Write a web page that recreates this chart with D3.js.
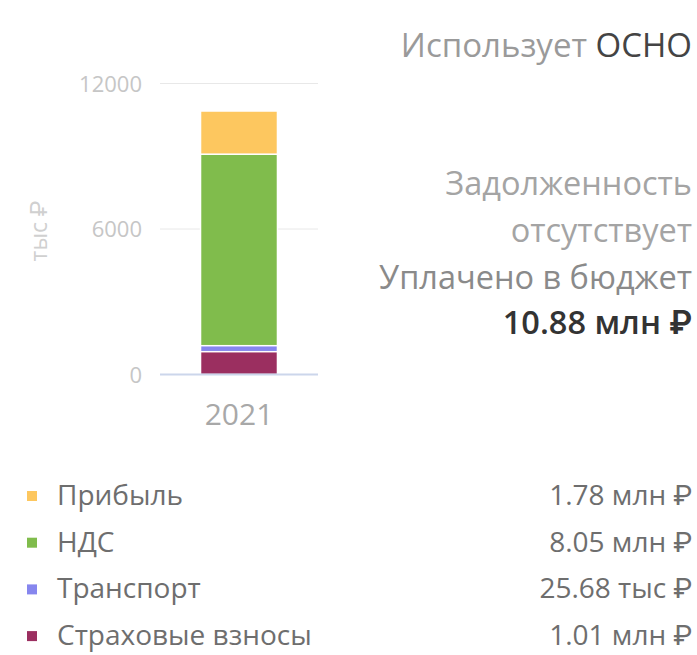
<!DOCTYPE html>
<html>
<head>
<meta charset="utf-8">
<script src="https://cdn.jsdelivr.net/npm/d3@7"></script>
<style>
  body { margin: 0; background: #fff; }
  svg { font-family: "Open Sans", Roboto, sans-serif; }
</style>
</head>
<body>
<script>
// values in тыс ₽
const categories = ['2021'];
const seriesNames = ['Прибыль', 'НДС', 'Транспорт', 'Страховые взносы'];
const seriesValues = [1780, 8050, 25.68, 1010];
const seriesLabels = ['1.78 млн ₽', '8.05 млн ₽', '25.68 тыс ₽', '1.01 млн ₽'];
const seriesColors = ['#fdc75f', '#80bc4c', '#8686ee', '#9b2f60'];
const yTicks = [0, 6000, 12000];
const totalLabel = '10.88 млн ₽';

const width = 697, height = 655;
const minBar = 6;

const svg = d3.select("body").append("svg")
    .attr("width", width)
    .attr("height", height);

const x = d3.scaleBand()
    .domain(categories)
    .range([160, 318])
    .padding(0.345);

const y = d3.scaleLinear()
    .domain([0, 12000])
    .range([374.5, 83.5]);

// grid
svg.append("g").selectAll("line")
    .data(yTicks.filter(d => d > 0))
    .enter().append("line")
    .attr("x1", 160).attr("x2", 318)
    .attr("y1", d => y(d)).attr("y2", d => y(d))
    .attr("stroke", "#e8e8e8");

svg.append("g").selectAll("text")
    .data(yTicks)
    .enter().append("text")
    .attr("x", 142)
    .attr("y", d => y(d) + 8)
    .attr("text-anchor", "end")
    .attr("font-size", 22)
    .attr("fill", "#c6c6c6")
    .text(d => d);

svg.append("text")
    .attr("transform", "translate(47," + (y(6000) + 2) + ") rotate(-90)")
    .attr("text-anchor", "middle")
    .attr("font-size", 23)
    .attr("fill", "#d0d0d0")
    .text("тыс ₽");

// stacked bar, bottom series first
const row = {};
seriesNames.forEach((n, i) => row[n] = seriesValues[i]);
const stackKeys = seriesNames.slice().reverse();
const stacked = d3.stack().keys(stackKeys)([row]);

const bars = svg.append("g").selectAll("rect")
    .data(stacked)
    .enter().append("rect")
    .attr("x", x('2021'))
    .attr("width", x.bandwidth())
    .attr("y", d => {
        const h = y(d[0][0]) - y(d[0][1]);
        return h < minBar ? (y(d[0][0]) + y(d[0][1])) / 2 - minBar / 2 - 1 : y(d[0][1]);
    })
    .attr("height", d => Math.max(y(d[0][0]) - y(d[0][1]), minBar))
    .attr("fill", d => seriesColors[seriesNames.indexOf(d.key)])
    .attr("stroke", "#fff")
    .attr("stroke-width", 1.5);

// keep the thin segment on top
bars.filter(d => y(d[0][0]) - y(d[0][1]) < minBar).raise();

// baseline
svg.append("line")
    .attr("x1", 160).attr("x2", 318)
    .attr("y1", y(0)).attr("y2", y(0))
    .attr("stroke", "#ccd6eb")
    .attr("stroke-width", 2);

svg.append("text")
    .attr("x", x('2021') + x.bandwidth() / 2)
    .attr("y", 425)
    .attr("text-anchor", "middle")
    .attr("font-size", 30)
    .attr("fill", "#a8a8a8")
    .text(categories[0]);

// right side info
const info = svg.append("g").attr("text-anchor", "end");
const head = info.append("text")
    .attr("x", 692).attr("y", 57)
    .attr("font-size", 33)
    .attr("fill", "#9a9a9a");
head.append("tspan").text("Использует ");
head.append("tspan").attr("fill", "#444").text("ОСНО");

info.append("text").attr("x", 692).attr("y", 195)
    .attr("font-size", 32.5).attr("fill", "#a4a4a4").text("Задолженность");
info.append("text").attr("x", 692).attr("y", 242)
    .attr("font-size", 32.5).attr("fill", "#a4a4a4").text("отсутствует");
info.append("text").attr("x", 692).attr("y", 289)
    .attr("font-size", 32.5).attr("fill", "#8a8a8a").text("Уплачено в бюджет");
info.append("text").attr("x", 692).attr("y", 334)
    .attr("font-size", 32.5).attr("font-weight", 600).attr("fill", "#333")
    .text(totalLabel);

// legend
const legend = svg.append("g");
const items = legend.selectAll("g")
    .data(seriesNames)
    .enter().append("g")
    .attr("transform", (d, i) => "translate(0," + (505 + i * 46.7) + ")");

items.append("rect")
    .attr("x", 27).attr("y", -14)
    .attr("width", 10).attr("height", 10)
    .attr("fill", (d, i) => seriesColors[i]);

items.append("text")
    .attr("x", 57)
    .attr("font-size", 28)
    .attr("fill", "#6e6e6e")
    .text(d => d);

items.append("text")
    .attr("x", 692)
    .attr("text-anchor", "end")
    .attr("font-size", 28)
    .attr("fill", "#6e6e6e")
    .text((d, i) => seriesLabels[i]);
</script>
</body>
</html>
